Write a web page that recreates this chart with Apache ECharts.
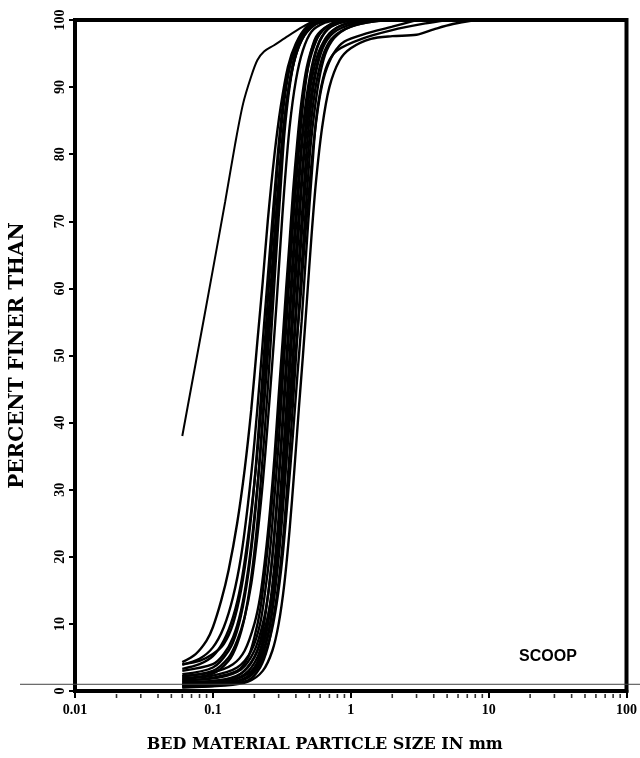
<!DOCTYPE html>
<html>
<head>
<meta charset="utf-8">
<script src="https://cdn.jsdelivr.net/npm/echarts@6/dist/echarts.min.js"></script>
<style>
html,body{margin:0;padding:0;background:#fff;}
#main{width:640px;height:758px;}
</style>
</head>
<body>
<div id="main"></div>
<script>
// ---- Data: [particle size in mm, percent finer] ----
const curveA = [[0.06,38],[0.07,45.5],[0.087,56],[0.1,62.8],[0.123,73],[0.145,81.5],[0.1655,87.5],[0.189,91.5],[0.21,94],[0.235,95.3],[0.276,96.2],[0.35,97.6],[0.45,99],[0.55,100]];

const curveL1 = [[0.06,4.3],[0.075,5.5],[0.09,7.5],[0.1,9.5],[0.115,13.5],[0.13,18],[0.15,25],[0.17,33],[0.19,42],[0.21,52],[0.23,61],[0.25,70],[0.28,80],[0.31,87],[0.35,93],[0.4,96.5],[0.48,99],[0.6,100]];
const curveL2 = [[0.06,3.9],[0.08,4.8],[0.1,6.5],[0.12,9.5],[0.14,14],[0.16,20],[0.18,28],[0.2,37],[0.22,47],[0.24,57],[0.26,66],[0.29,78],[0.32,87],[0.36,93],[0.42,97],[0.5,99],[0.7,100]];
const curveL3 = [[0.06,3.3],[0.08,4],[0.1,5.2],[0.12,7.5],[0.14,11],[0.16,16],[0.18,23],[0.2,31],[0.22,40],[0.24,50],[0.26,59],[0.28,68],[0.3,76],[0.33,85],[0.37,92],[0.42,96],[0.5,98.8],[0.65,100]];
const curveL4 = [[0.06,2.5],[0.1,3.5],[0.13,6],[0.15,9],[0.17,14],[0.19,21],[0.21,30],[0.23,41],[0.25,52],[0.27,62],[0.29,71],[0.31,79],[0.34,87],[0.38,93],[0.44,97],[0.55,99.3],[0.7,100]];
const curveL5 = [[0.06,1.9],[0.1,2.6],[0.13,4.5],[0.15,7],[0.17,11],[0.19,17],[0.21,25],[0.23,35],[0.25,45],[0.27,56],[0.29,66],[0.31,75],[0.33,83],[0.36,90],[0.4,95],[0.46,98],[0.6,100]];
const curveL6 = [[0.06,4],[0.08,4.5],[0.1,5.5],[0.12,7],[0.14,10],[0.16,15],[0.18,22],[0.2,31],[0.22,42],[0.24,53],[0.26,63],[0.28,72],[0.3,80],[0.33,88],[0.37,94],[0.43,97.5],[0.55,99.5],[0.7,100]];
const curveL7 = [[0.06,3],[0.1,4],[0.12,5.5],[0.14,8],[0.16,12],[0.18,18],[0.2,26],[0.22,35],[0.24,45],[0.26,55],[0.28,65],[0.3,74],[0.32,82],[0.35,89],[0.39,94.5],[0.45,98],[0.6,100]];
const curveL8 = [[0.06,2.2],[0.1,3],[0.13,5],[0.15,7.5],[0.17,11],[0.19,16],[0.21,23],[0.23,31],[0.25,40],[0.27,49],[0.29,58],[0.31,67],[0.33,75],[0.36,84],[0.4,91],[0.45,95.5],[0.52,98.3],[0.65,99.6],[0.8,100]];

const curveR1 = [[0.06,1.5],[0.1,2],[0.15,3],[0.18,5],[0.2,8],[0.22,12],[0.24,18],[0.26,25],[0.28,33],[0.3,41],[0.32,49],[0.34,57],[0.36,65],[0.38,72],[0.4,78],[0.43,85],[0.47,91],[0.52,95],[0.6,98],[0.75,99.5],[1,100]];
const curveR2 = [[0.06,1.2],[0.1,1.5],[0.15,2.2],[0.2,5],[0.23,9],[0.25,14],[0.27,20],[0.29,28],[0.31,36],[0.33,45],[0.35,53],[0.37,61],[0.39,68],[0.42,77],[0.45,84],[0.49,90],[0.55,95],[0.65,98.2],[0.8,99.5],[1.1,100]];
const curveR3 = [[0.06,0.9],[0.1,1.2],[0.15,1.8],[0.2,3.5],[0.24,8],[0.26,12],[0.28,17],[0.3,24],[0.32,31],[0.34,39],[0.36,47],[0.38,55],[0.4,62],[0.43,72],[0.46,80],[0.5,87],[0.55,92],[0.62,96],[0.75,98.5],[1,99.6],[1.5,100]];
const curveR4 = [[0.06,0.7],[0.12,1],[0.17,1.8],[0.21,4],[0.24,7],[0.26,10],[0.28,15],[0.3,21],[0.32,28],[0.34,35],[0.36,43],[0.38,50],[0.4,57],[0.42,64],[0.45,73],[0.48,81],[0.52,88],[0.57,93],[0.65,96.5],[0.8,98.5],[1.2,99.7],[2,100]];
const curveR5 = [[0.06,1.8],[0.1,2.3],[0.15,3.5],[0.19,6],[0.22,10],[0.24,15],[0.26,21],[0.28,29],[0.3,37],[0.32,46],[0.34,54],[0.36,62],[0.38,69],[0.4,75],[0.43,83],[0.46,89],[0.5,94],[0.56,97.5],[0.7,99.3],[0.9,100]];
const curveR6 = [[0.06,1],[0.12,1.4],[0.17,2.5],[0.21,5],[0.24,9],[0.26,13],[0.28,19],[0.3,26],[0.32,34],[0.34,42],[0.36,50],[0.38,58],[0.4,65],[0.42,71],[0.45,79],[0.48,86],[0.52,91],[0.58,95],[0.7,98],[0.9,99.4],[1.3,100]];
const curveR7 = [[0.06,0.6],[0.12,0.9],[0.18,1.6],[0.22,3.5],[0.25,6.5],[0.27,10],[0.29,14],[0.31,19],[0.33,25],[0.35,32],[0.37,39],[0.39,46],[0.41,53],[0.43,60],[0.45,66],[0.48,74],[0.51,81],[0.55,87],[0.6,92],[0.67,95.5],[0.8,97.8],[1.1,99.3],[1.8,100]];
const curveR8 = [[0.06,2.2],[0.1,2.8],[0.14,4],[0.17,6],[0.2,10],[0.22,14],[0.24,20],[0.26,27],[0.28,35],[0.3,44],[0.32,52],[0.34,60],[0.36,67],[0.38,74],[0.41,82],[0.44,88],[0.48,93],[0.54,96.5],[0.65,98.8],[0.85,100]];
const curveR9 = [[0.06,0.8],[0.12,1.1],[0.18,2.2],[0.22,4.5],[0.25,8],[0.27,12],[0.29,17],[0.31,23],[0.33,30],[0.35,38],[0.37,45],[0.39,52],[0.41,59],[0.43,65],[0.46,73],[0.49,80],[0.53,87],[0.58,92],[0.65,95.5],[0.75,97.5],[1,99],[1.5,99.8],[2.5,100]];
const curveR10 = [[0.06,1.6],[0.11,2],[0.16,3.2],[0.2,6],[0.23,10],[0.25,14],[0.27,20],[0.29,27],[0.31,35],[0.33,43],[0.35,51],[0.37,59],[0.39,66],[0.42,75],[0.45,83],[0.49,89],[0.54,94],[0.6,97],[0.72,99],[1,100]];

const curveT1 = [[0.06,0.5],[0.12,0.8],[0.18,1.4],[0.23,3],[0.27,6],[0.3,10],[0.33,16],[0.36,24],[0.39,33],[0.42,42],[0.45,50],[0.48,58],[0.52,68],[0.56,76],[0.62,84],[0.7,90],[0.83,94],[1,95.8],[1.4,97.2],[2,97.6],[3,97.8],[4,98.6],[5.5,99.4],[8,100]];
const curveT2 = [[0.06,0.8],[0.12,1.1],[0.18,2],[0.22,4],[0.26,8],[0.29,13],[0.32,20],[0.35,29],[0.38,38],[0.41,47],[0.44,55],[0.47,64],[0.5,72],[0.53,79],[0.56,85],[0.61,90],[0.68,93.5],[0.8,95.5],[1.2,97.2],[2,98.5],[3.5,99.5],[5,100]];
const curveT3 = [[0.06,1.3],[0.12,1.7],[0.17,3],[0.21,6],[0.25,11],[0.28,17],[0.31,25],[0.34,34],[0.37,43],[0.4,51],[0.43,58],[0.46,66],[0.5,75],[0.54,82],[0.59,88],[0.65,92],[0.75,95],[0.9,96.8],[1.3,98],[2,99],[3,100]];

const allCurves = [curveA, curveL1, curveL2, curveL3, curveL4, curveL5, curveL6, curveL7, curveL8,
  curveR1, curveR2, curveR3, curveR4, curveR5, curveR6, curveR7, curveR8, curveR9, curveR10,
  curveT1, curveT2, curveT3];

// Axis ticks / labels
const yTicks = [0,10,20,30,40,50,60,70,80,90,100];
const xMajor = [0.01,0.1,1,10,100];
const xMinor = [0.02,0.03,0.04,0.05,0.06,0.07,0.08,0.09,
                0.2,0.3,0.4,0.5,0.6,0.7,0.8,0.9,
                2,3,4,5,6,7,8,9,
                20,30,40,50,60,70,80,90];
const xLabelText = {'0.01':'0.01','0.1':'0.1','1':'1','10':'10','100':'100'};

const chart = echarts.init(document.getElementById('main'), null, {renderer:'canvas'});

const serif = 'Liberation Serif';
const series = allCurves.map((c, i) => ({
  type:'line', data:c, smooth:0.3, showSymbol:false, symbol:'none',
  lineStyle:{color:'#000', width: i === 0 ? 2 : 2.4}, silent:true, z:3
}));
series.push({
  type:'scatter', data:xMinor.map(v=>[v,0]), symbol:'rect', symbolSize:[1.6,4],
  symbolOffset:[0,5], itemStyle:{color:'#000'}, clip:false, silent:true, z:5
});

chart.setOption({
  animation:false,
  backgroundColor:'#fff',
  grid:{left:72, right:10, top:20, bottom:64, show:true, borderColor:'#000', borderWidth:4},
  xAxis:{
    type:'log', logBase:10, min:0.01, max:100,
    name:'BED MATERIAL PARTICLE SIZE IN mm', nameLocation:'middle', nameGap:46,
    nameTextStyle:{fontFamily:'DejaVu Serif', fontWeight:'bold', fontSize:16, color:'#000', padding:[0,52,0,0]},
    axisLine:{lineStyle:{color:'#000', width:4}},
    axisTick:{show:true, length:7, lineStyle:{color:'#000', width:2}},
    axisLabel:{color:'#000', fontFamily:serif, fontWeight:'bold', fontSize:14, margin:12,
      formatter:v=>{ const k=String(+v.toPrecision(3)); return xLabelText[k]!==undefined?xLabelText[k]:''; }},
    splitLine:{show:false}
  },
  yAxis:{
    type:'value', min:0, max:100, interval:10,
    name:'PERCENT FINER THAN', nameLocation:'middle', nameGap:47, nameRotate:90,
    nameTextStyle:{fontFamily:'DejaVu Serif', fontWeight:'bold', fontSize:20, color:'#000'},
    axisLine:{show:true, lineStyle:{color:'#000', width:4}},
    axisTick:{show:true, length:6, lineStyle:{color:'#000', width:2}},
    axisLabel:{color:'#000', fontFamily:serif, fontWeight:'bold', fontSize:14, rotate:90, margin:8,
      formatter:v=> yTicks.indexOf(v)>=0 ? String(v) : ''},
    splitLine:{show:false}
  },
  series:series
});

const yPix = chart.convertToPixel({yAxisIndex:0}, 1);
chart.setOption({
  graphic:[
    {type:'line', silent:true, z:10, shape:{x1:20, y1:yPix, x2:640, y2:yPix}, style:{stroke:'#444', lineWidth:1}},
    {type:'text', silent:true, z:10, style:{text:'SCOOP', x:548, y:657, textAlign:'center', textVerticalAlign:'middle',
      font:'bold 16px "Liberation Sans", Arial, sans-serif', fill:'#000'}}
  ]
});
</script>
</body>
</html>
